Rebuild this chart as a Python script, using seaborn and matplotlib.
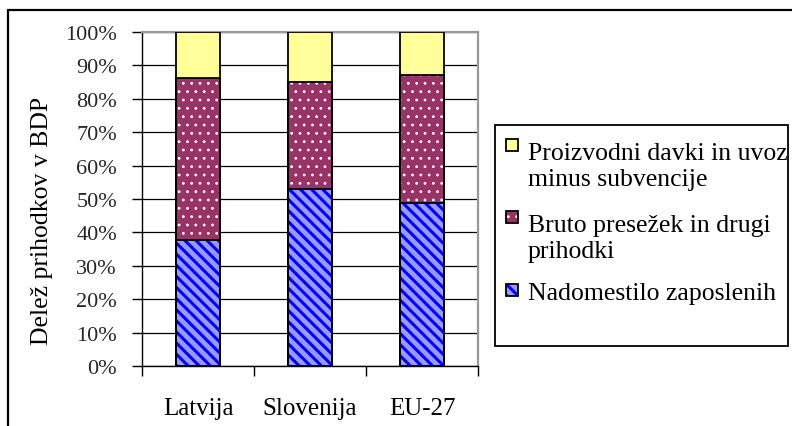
import matplotlib
matplotlib.use("Agg")
import matplotlib.pyplot as plt
import seaborn as sns
import pandas as pd
from matplotlib.patches import Rectangle
from matplotlib.lines import Line2D

# ---- data ----
countries = ["Latvija", "Slovenija", "EU-27"]
nadomestilo = [37.7, 53.0, 48.8]     # Nadomestilo zaposlenih
bruto = [48.4, 31.9, 38.3]           # Bruto presežek in drugi prihodki
davki = [13.9, 15.1, 12.9]           # Proizvodni davki in uvoz minus subvencije
legend_labels = ["Proizvodni davki in uvoz\nminus subvencije",
                 "Bruto presežek in drugi\nprihodki",
                 "Nadomestilo zaposlenih"]
y_ticks = [0, 10, 20, 30, 40, 50, 60, 70, 80, 90, 100]
y_ticklabels = [f"{v}%" for v in y_ticks]
y_label = "Delež prihodkov v BDP"

C_YEL = "#FFFF99"
C_PUR = "#993366"
C_BLU = "#9999FF"
C_BLU_H = "#0000FF"
STRIPES = "\\" * 3

sns.set_theme(style="white")
plt.rcParams["font.family"] = ["Liberation Serif", "DejaVu Serif"]

W, H = 792, 427
fig = plt.figure(figsize=(W / 100, H / 100), dpi=100)
fig.patch.set_facecolor("white")
ax = fig.add_axes([142 / W, 1 - 367 / H, 336 / W, 334 / H])

df = pd.DataFrame({"land": countries, "nad": nadomestilo, "bru": bruto, "dav": davki})
df["mid"] = df["nad"] + df["bru"]
df["top"] = df["mid"] + df["dav"]

BW = 0.39
EDGE_LW = 1.3

def layer(col, face, hatch=None, hcolor=None, hlw=1.0):
    if hatch:
        plt.rcParams["hatch.linewidth"] = hlw
        sns.barplot(data=df, x="land", y=col, color=face, saturation=1, width=BW,
                    edgecolor=hcolor, linewidth=0, hatch=hatch, errorbar=None,
                    ax=ax, zorder=3)
    else:
        sns.barplot(data=df, x="land", y=col, color=face, saturation=1, width=BW,
                    linewidth=0, errorbar=None, ax=ax, zorder=3)
    sns.barplot(data=df, x="land", y=col, fill=False, width=BW, edgecolor="black",
                linewidth=EDGE_LW, errorbar=None, ax=ax, zorder=4)

layer("top", C_YEL)
layer("mid", C_PUR, hatch="..", hcolor="white", hlw=0.8)
layer("nad", C_BLU, hatch=STRIPES, hcolor=C_BLU_H, hlw=2.2)

ax.set_xlim(-0.5, 2.5)
ax.set_ylim(0, 100)
ax.set_yticks(y_ticks)
ax.set_yticklabels(y_ticklabels, fontsize=16)
ax.set_xticks([0, 1, 2])
ax.set_xticklabels(countries, fontsize=18)
ax.set_xticks([-0.5, 0.5, 1.5, 2.5], minor=True)
ax.tick_params(axis="x", which="major", length=0, pad=22, colors="black")
ax.tick_params(axis="x", which="minor", length=7, width=1, direction="out", color="black", bottom=True)
ax.tick_params(axis="y", which="major", length=7, width=1, direction="out", pad=11, color="black", left=True)
ax.set_xlabel("")
ax.set_ylabel(y_label, fontsize=18.5, color="black")
ax.yaxis.set_label_coords(-0.265, 0.437)

ax.set_axisbelow(True)
ax.yaxis.grid(True, color="black", linewidth=0.9)
ax.xaxis.grid(False)
for s in ["left", "bottom"]:
    ax.spines[s].set_color("black")
    ax.spines[s].set_linewidth(1.0)
for s in ["top", "right"]:
    ax.spines[s].set_color("#999999")
    ax.spines[s].set_linewidth(1.6)
    ax.spines[s].set_visible(True)
ax.set_facecolor("white")

# ---- legend box (drawn manually to keep handles at the first line) ----
fig.add_artist(Rectangle((495 / W, 1 - 347 / H), 293 / W, 221 / H,
                         transform=fig.transFigure, fill=False, ec="black", lw=1.3))
LEG_FS = 18.5
LSP = 1.2
line_step = LSP * LEG_FS * 100 / 72
entries = [
    (C_YEL, None, None, 0, 155),
    (C_PUR, "..", "white", 0.8, 227),
    (C_BLU, STRIPES, C_BLU_H, 2.2, 300),
]
for (face, hatch, hc, hlw, base), lab in zip(entries, legend_labels):
    sq_top = base - 15
    if hatch:
        plt.rcParams["hatch.linewidth"] = hlw
        fig.add_artist(Rectangle((506 / W, 1 - (sq_top + 12) / H), 12 / W, 12 / H,
                                 transform=fig.transFigure, fc=face, ec=hc, lw=0, hatch=hatch))
    else:
        fig.add_artist(Rectangle((506 / W, 1 - (sq_top + 12) / H), 12 / W, 12 / H,
                                 transform=fig.transFigure, fc=face, lw=0))
    fig.add_artist(Rectangle((506 / W, 1 - (sq_top + 12) / H), 12 / W, 12 / H,
                             transform=fig.transFigure, fill=False, ec="black", lw=1.3))
    nlines = lab.count("\n") + 1
    y_last = base + (nlines - 1) * line_step
    fig.text(528 / W, 1 - y_last / H, lab, fontsize=LEG_FS, va="baseline", ha="left",
             linespacing=LSP, color="black")

# ---- outer chart frame (partially outside the picture) ----
fig.add_artist(Line2D([8 / W, 1.0], [1 - 11 / H, 1 - 11 / H], transform=fig.transFigure,
                      color="black", lw=1.6))
fig.add_artist(Line2D([8 / W, 8 / W], [0.0, 1 - 11 / H], transform=fig.transFigure,
                      color="black", lw=1.6))

fig.savefig("out.png", dpi=100, facecolor="white")
